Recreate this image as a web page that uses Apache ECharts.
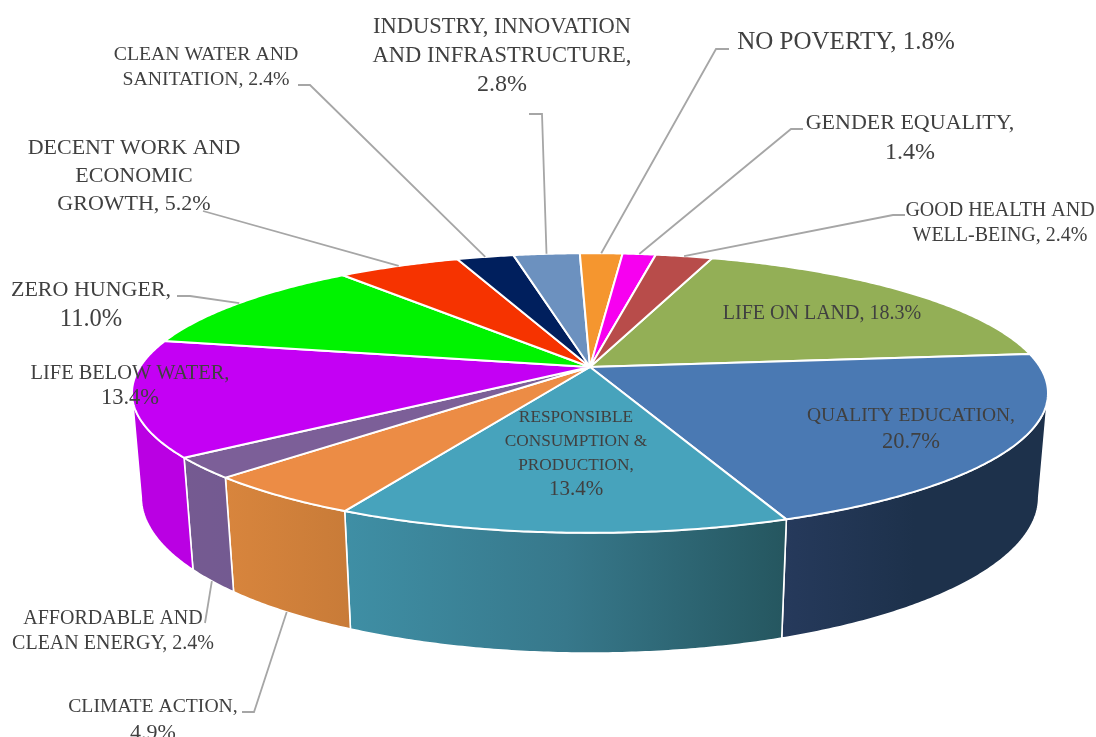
<!DOCTYPE html>
<html>
<head>
<meta charset="utf-8">
<style>html,body{margin:0;padding:0;background:#fff}#c{width:1096px;height:737px}</style>
<script src="https://cdn.jsdelivr.net/npm/echarts@6/dist/echarts.min.js"></script>
</head>
<body>
<div id="c"></div>
<script>
// ---- data (clockwise from the first slice) ----
const categories = ['LIFE ON LAND','QUALITY EDUCATION','RESPONSIBLE CONSUMPTION & PRODUCTION','CLIMATE ACTION','AFFORDABLE AND CLEAN ENERGY','LIFE BELOW WATER','ZERO HUNGER','DECENT WORK AND ECONOMIC GROWTH','CLEAN WATER AND SANITATION','INDUSTRY, INNOVATION AND INFRASTRUCTURE','NO POVERTY','GENDER EQUALITY','GOOD HEALTH AND WELL-BEING'];
const values = [18.3,20.7,13.4,4.9,2.4,13.4,11.0,5.2,2.4,2.8,1.8,1.4,2.4];
const labelTexts = [
 'LIFE ON LAND, 18.3%','QUALITY EDUCATION,\n20.7%','RESPONSIBLE\nCONSUMPTION &\nPRODUCTION,\n13.4%','CLIMATE ACTION,\n4.9%',
 'AFFORDABLE AND\nCLEAN ENERGY, 2.4%','LIFE BELOW WATER,\n13.4%','ZERO HUNGER,\n11.0%','DECENT WORK AND\nECONOMIC\nGROWTH, 5.2%',
 'CLEAN WATER AND\nSANITATION, 2.4%','INDUSTRY, INNOVATION\nAND INFRASTRUCTURE,\n2.8%','NO POVERTY, 1.8%','GENDER EQUALITY,\n1.4%','GOOD HEALTH AND\nWELL-BEING, 2.4%'];

// ---- styles ----
const topColors = ['#93af56','#4a79b3','#47a3bc','#ec8c45','#7c5f98','#c400f4','#00f300','#f63300','#001f5d','#6c91bf','#f5962f','#f700f0','#b84c4a'];
const wallStops = [
 ['#93af56','#93af56'],[ '#263a5c','#1d314b','#1d314b'],['#3f8fa5','#37788b','#25565f'],['#d8853d','#c87b38'],['#755a91','#735a91'],
 ['#ba00e3','#ba00e3'],['#00d000','#00d000'],['#d02b00','#d02b00'],['#001a4d','#001a4d'],['#5a7aa0','#5a7aa0'],['#d07f28','#d07f28'],['#d000cc','#d000cc'],['#9c403e','#9c403e']];
const font = '"Liberation Serif"';
const textColor = '#404040', leaderColor = '#a6a6a6';

// ---- layout of labels: [centre x, centre y, font size, line height, font size of a percent-only line] ----
const labelBox = [[822,314,20,26,20],[911,429,19.5,27,22.5],[576,453,17.3,24,21],[153,720,19.7,27,22],[113,631,20,25,20],[130,386,20.4,25,22.5],[91,305,22,30,24.5],[134,176,22,28,22],[206,67,19.8,25,19.8],[502,56,22.5,28.5,24],[846,42,25,28,25],[910,138,22,30,24],[1000,223,20,25,20]];
// leader elbows, and which rim the line ends on (0 top rim, 1 bottom rim)
const leaders = [null,null,null,{pts:[[242,712],[254,712]],rim:1},{pts:[[205,623]],rim:1},null,{pts:[[177,296],[190,296]],rim:0},{pts:[[203,211]],rim:0},{pts:[[298,85],[310,85]],rim:0},{pts:[[529,114],[542,114]],rim:0},{pts:[[729,49],[716,49]],rim:0},{pts:[[803,129],[791,129]],rim:0},{pts:[[905,215],[893,215]],rim:0}];

// ---- perspective pie projection ----
const CX=590, CY=367, R=450, S=135, K=0.186, DROP=103.6, D=0.02, START=18.6;
const TANGENT=Math.acos(-K)*180/Math.PI; // angle where the rim turns away from the viewer
function project(t,h){ // t: degrees clockwise from the back of the pie, h: 0 top, 1 bottom
  const a=t*Math.PI/180, u=Math.sin(a), v=-Math.cos(a), w=1-K*v+D*h;
  return [CX+R*u/w, CY+(S*v+DROP*h)/w];
}
const total=values.reduce((s,x)=>s+x,0);
const starts=[]; values.reduce((acc,x,i)=>{starts[i]=START+acc/total*360;return acc+x;},0);
const ends=values.map((x,i)=>starts[i]+x/total*360);
function arc(a,b,h){const p=[];const n=Math.max(2,Math.ceil(b-a)*2);for(let k=0;k<=n;k++)p.push(project(a+(b-a)*k/n,h));return p;}

function renderWall(params){
  const i=params.dataIndex, a=Math.max(starts[i],TANGENT), b=Math.min(ends[i],360-TANGENT);
  if(b<=a) return null;
  const stops=wallStops[i].map((c,k,l)=>({offset:k/(l.length-1),color:c}));
  return {type:'polygon',shape:{points:arc(a,b,0).concat(arc(a,b,1).reverse())},style:{
    fill:new echarts.graphic.LinearGradient(0,0,1,0,stops),stroke:'#fff',lineWidth:1.6,lineJoin:'round'}};
}
function renderTop(params){
  const i=params.dataIndex;
  return {type:'polygon',shape:{points:[[CX,CY]].concat(arc(starts[i],ends[i],0))},style:{fill:topColors[i],stroke:'#fff',lineWidth:2,lineJoin:'round'}};
}
function renderLabel(params){
  const i=params.dataIndex, b=labelBox[i], kids=[];
  const l=leaders[i];
  if(l){
    const end=project((starts[i]+ends[i])/2,l.rim);
    kids.push({type:'polyline',shape:{points:l.pts.concat([end])},style:{fill:null,stroke:leaderColor,lineWidth:1.8}});
  }
  const lines=labelTexts[i].split('\n');
  lines.forEach((line,k)=>{
    const size=/^[\d.]+%$/.test(line)?b[4]:b[2];
    kids.push({type:'text',style:{text:line,x:b[0],y:b[1]+(k-(lines.length-1)/2)*b[3],fill:textColor,fontFamily:font,fontSize:size,
      align:'center',verticalAlign:'middle',textAlign:'center',textVerticalAlign:'middle'}});
  });
  return {type:'group',children:kids};
}
const rows=values.map((v,i)=>({name:categories[i],value:v}));
const chart=echarts.init(document.getElementById('c'),null,{renderer:'canvas'});
chart.setOption({
  animation:false,
  backgroundColor:'#fff',
  series:[
    {type:'custom',coordinateSystem:'none',z:1,data:rows,renderItem:renderWall,silent:true},
    {type:'custom',coordinateSystem:'none',z:2,data:rows,renderItem:renderTop,silent:true},
    {type:'custom',coordinateSystem:'none',z:3,data:rows,renderItem:renderLabel,silent:true}
  ]
});
</script>
</body>
</html>
